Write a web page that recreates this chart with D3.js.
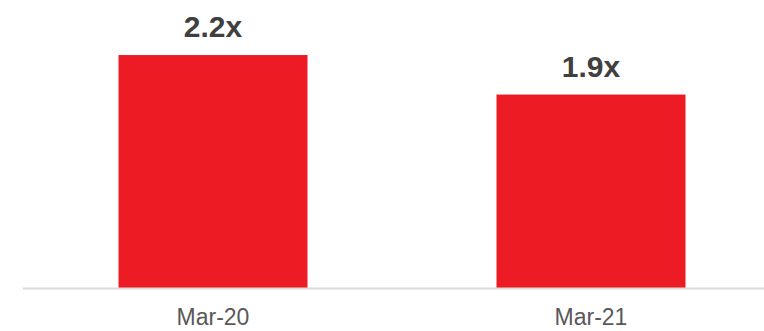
<!DOCTYPE html>
<html>
<head>
<meta charset="utf-8">
<script src="https://cdn.jsdelivr.net/npm/d3@7"></script>
<style>
  body { margin: 0; background: #fff; }
  svg { display: block; font-family: "Liberation Sans", Arial, sans-serif; }
</style>
</head>
<body>
<div id="chart"></div>
<script>
// values (labels round to 1 decimal)
var periods = ["Mar-20", "Mar-21"];
var multiples = [2.24, 1.86];

var width = 764, height = 331;
var baseY = 288;

var svg = d3.select("#chart")
  .append("svg")
  .attr("width", width)
  .attr("height", height);

var x = d3.scaleBand()
  .domain(periods)
  .range([24, 780])
  .paddingInner(0.5)
  .paddingOuter(0.25);

var y = d3.scaleLinear()
  .domain([0, 2.5])
  .range([baseY, baseY - 260]);

// bars
svg.selectAll("rect.bar")
  .data(periods)
  .enter()
  .append("rect")
  .attr("class", "bar")
  .attr("x", function(d){ return x(d); })
  .attr("width", x.bandwidth())
  .attr("y", function(d, i){ return y(multiples[i]); })
  .attr("height", function(d, i){ return baseY - y(multiples[i]); })
  .attr("fill", "#ed1c24");

// baseline
svg.append("line")
  .attr("x1", 23)
  .attr("x2", width)
  .attr("y1", baseY + 0.5)
  .attr("y2", baseY + 0.5)
  .attr("stroke", "#d9d9d9")
  .attr("stroke-width", 2);

// value labels
svg.selectAll("text.val")
  .data(periods)
  .enter()
  .append("text")
  .attr("class", "val")
  .attr("x", function(d){ return x(d) + x.bandwidth() / 2; })
  .attr("y", function(d, i){ return y(multiples[i]) - 18; })
  .attr("text-anchor", "middle")
  .attr("font-size", "30px")
  .attr("font-weight", "bold")
  .attr("fill", "#404040")
  .text(function(d, i){ return multiples[i].toFixed(1) + "x"; });

// category labels
svg.selectAll("text.cat")
  .data(periods)
  .enter()
  .append("text")
  .attr("class", "cat")
  .attr("x", function(d){ return x(d) + x.bandwidth() / 2; })
  .attr("y", 325)
  .attr("text-anchor", "middle")
  .attr("font-size", "23px")
  .attr("fill", "#595959")
  .text(function(d){ return d; });
</script>
</body>
</html>
